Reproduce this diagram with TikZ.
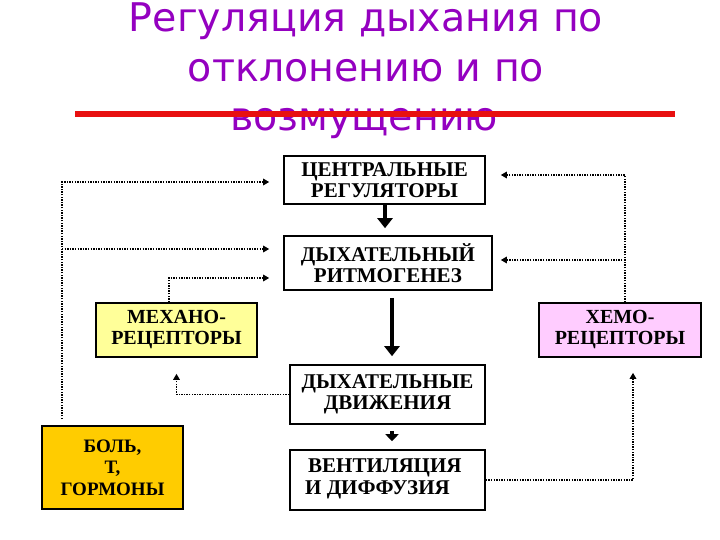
\documentclass[tikz,border=0pt]{standalone}
\usepackage{fontspec}
\setmainfont{Liberation Serif}
\newfontfamily\titlefont{DejaVu Sans}
\usetikzlibrary{arrows.meta}
\definecolor{ttl}{HTML}{9400C0}
\definecolor{redl}{HTML}{E81010}
\definecolor{mech}{HTML}{FFFF99}
\definecolor{chem}{HTML}{FFCCFF}
\definecolor{pain}{HTML}{FFCC00}
\tikzset{
  box/.style={draw=black, line width=1.6pt, fill=white, align=center, inner sep=0pt,
    font=\fontsize{21}{21}\selectfont\bfseries},
  solidarrow/.style={line width=3.5pt, -{Triangle[width=15pt,length=10pt]}},
  smallarrow/.style={line width=3.5pt, -{Triangle[width=13pt,length=7pt]}},
  dotarrow/.style={line width=1.4pt, dash pattern=on 1.4pt off 1.2pt, -{Triangle[width=6.5pt,length=6pt]}},
  titletext/.style={text=ttl, font=\titlefont\fontsize{39.5}{46}\selectfont, anchor=base}
}
\begin{document}
\begin{tikzpicture}[x=1pt,y=-1pt]
\useasboundingbox (0,0) rectangle (720,540);
% title
\node[titletext] (t1) at (366,32) {Регуляция дыхания по};
\node[titletext] (t2) at (366,82) {отклонению и по};
\node[titletext] (t3) at (364,131) {возмущению};
\draw[redl, line width=5.5pt] (75,114) coordinate (rl) -- (675,114) coordinate (rr);
% boxes
\node[box, minimum width=201, minimum height=48] (c) at (384.5,180) {ЦЕНТРАЛЬНЫЕ\\РЕГУЛЯТОРЫ};
\node[box, minimum width=208, minimum height=54] (r) at (388,263) {ДЫХАТЕЛЬНЫЙ\\РИТМОГЕНЕЗ};
\node[box, minimum width=195, minimum height=59] (d) at (387.5,394.5) {ДЫХАТЕЛЬНЫЕ\\ДВИЖЕНИЯ};
\node[box, minimum width=195, minimum height=60] (v) at (387.5,480) {};
\node[font=\fontsize{21}{22}\selectfont\bfseries, align=left, anchor=west, inner sep=0pt] (vt) at (305,479) {\hspace*{3pt}ВЕНТИЛЯЦИЯ\\И ДИФФУЗИЯ};
\node[box, fill=mech, minimum width=161, minimum height=54, font=\fontsize{20}{21}\selectfont\bfseries] (m) at (176.5,330) {МЕХАНО-\\РЕЦЕПТОРЫ};
\node[box, fill=chem, minimum width=162, minimum height=54, font=\fontsize{20}{21}\selectfont\bfseries] (x) at (620,330) {ХЕМО-\\РЕЦЕПТОРЫ};
\node[box, fill=pain, minimum width=141, minimum height=83, font=\fontsize{19}{21.5}\selectfont\bfseries] (b) at (112.5,467.5) {БОЛЬ,\\Т,\\ГОРМОНЫ};
% solid arrows
\draw[solidarrow] ([xshift=0.5pt]c.south) -- ([xshift=0.5pt,yshift=7pt]c.south |- r.north);
\draw[solidarrow] ([xshift=4pt,yshift=-7pt]r.south) -- ([xshift=4pt,yshift=8pt]r.south |- d.north);
\draw[smallarrow] ([xshift=4.5pt,yshift=-6pt]d.south) -- ([xshift=4.5pt,yshift=8pt]d.south |- v.north);
% left dotted connectors
\coordinate (lb) at (62,419);
\draw[dotarrow] (lb) |- ([xshift=-14pt,yshift=-2pt]c.west);
\draw[dotarrow] (lb |- 0,249) -- ([xshift=-14pt,yshift=14pt]r.west);
\draw[dotarrow] ([xshift=-7.5pt]m.north) |- ([xshift=-14pt,yshift=-15pt]r.west);
\draw[dotarrow] (d.west) -| ([yshift=-16pt]m.south);
% right dotted connectors
\draw[dotarrow] ([xshift=5pt]x.north) |- ([xshift=15pt,yshift=5pt]c.east);
\draw[dotarrow] ([xshift=5pt]x.north |- 0,260) -- ([xshift=8pt,yshift=3pt]r.east);
\draw[dotarrow] (v.east) -| ([xshift=13pt,yshift=-15pt]x.south);
\end{tikzpicture}
\end{document}
